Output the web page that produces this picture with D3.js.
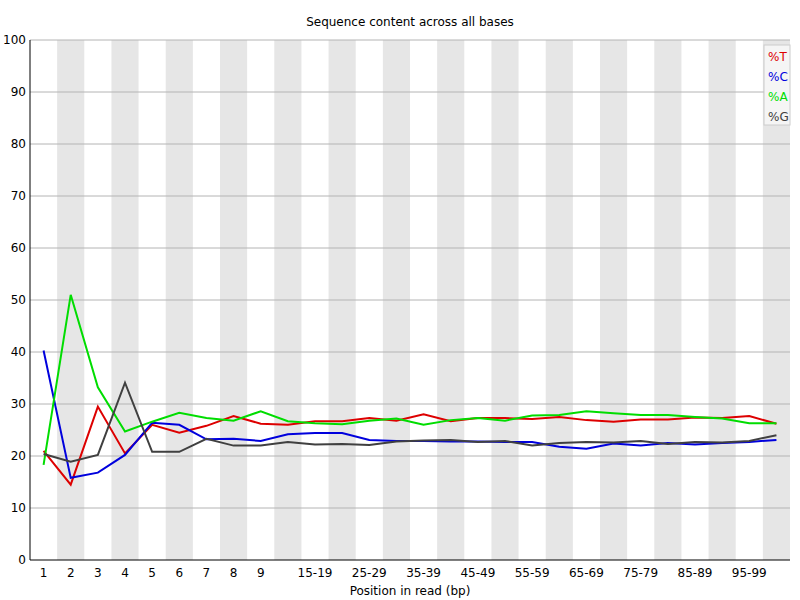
<!DOCTYPE html>
<html><head><meta charset="utf-8">
<script src="https://cdn.jsdelivr.net/npm/d3@7"></script>
<style>body{margin:0;background:#fff}text{font-family:"DejaVu Sans",sans-serif;font-size:12px}</style>
</head><body><div id="chart"></div>
<script>
var categories = ["1","2","3","4","5","6","7","8","9","10-14","15-19","20-24","25-29","30-34","35-39","40-44","45-49","50-54","55-59","60-64","65-69","70-74","75-79","80-84","85-89","90-94","95-99","100-101"];
var shownLabels = ["1","2","3","4","5","6","7","8","9","15-19","25-29","35-39","45-49","55-59","65-69","75-79","85-89","95-99"];
var pctT = [21,14.5,29.5,20.5,26,24.5,25.8,27.7,26.2,26,26.7,26.7,27.3,26.8,28,26.7,27.3,27.3,27.1,27.5,26.9,26.6,27,27,27.4,27.3,27.7,26.2];
var pctC = [40.3,15.8,16.8,20.2,26.4,26,23.2,23.3,22.9,24.2,24.4,24.4,23.1,22.9,22.9,22.8,22.8,22.7,22.7,21.8,21.4,22.4,22,22.5,22.2,22.5,22.7,23.1];
var pctA = [18.3,51,33.2,24.7,26.6,28.3,27.3,26.8,28.6,26.7,26.3,26.1,26.8,27.2,26,26.9,27.3,26.8,27.8,27.9,28.6,28.2,27.9,27.9,27.5,27.2,26.3,26.3];
var pctG = [20.4,18.9,20.2,34.1,20.8,20.8,23.3,22,22,22.7,22.2,22.3,22.1,22.8,23,23.1,22.7,22.9,22,22.5,22.7,22.6,22.9,22.3,22.7,22.6,22.9,24];
var series = [
  {name:"%T", values:pctT, color:"#dd0000"},
  {name:"%C", values:pctC, color:"#0000dd"},
  {name:"%A", values:pctA, color:"#00dd00"},
  {name:"%G", values:pctG, color:"#404040"}
];

var plotLeft = 30, plotRight = 790, plotTop = 40, plotBottom = 560;
var svg = d3.select("#chart").append("svg").attr("width", 800).attr("height", 600);
var x = d3.scaleBand().domain(categories).range([plotLeft, plotRight]);
var y = d3.scaleLinear().domain([0, 100]).range([plotBottom, plotTop]);

// alternating stripes
svg.selectAll("rect.stripe").data(categories.filter(function (d, i) { return i % 2 == 1; }))
  .enter().append("rect").attr("class", "stripe")
  .attr("x", function (d) { return x(d); }).attr("y", plotTop)
  .attr("width", x.bandwidth()).attr("height", plotBottom - plotTop).attr("fill", "#e6e6e6");

// horizontal grid
svg.selectAll("line.grid").data(d3.range(10, 101, 10)).enter().append("line")
  .attr("x1", plotLeft).attr("x2", plotRight)
  .attr("y1", function (d) { return y(d); }).attr("y2", function (d) { return y(d); })
  .attr("stroke", "#b4b4b4");

// axes
svg.append("line").attr("x1", plotLeft).attr("x2", plotLeft).attr("y1", plotTop).attr("y2", plotBottom).attr("stroke", "#000");
svg.append("line").attr("x1", plotLeft).attr("x2", plotRight).attr("y1", plotBottom).attr("y2", plotBottom).attr("stroke", "#000");
svg.selectAll("text.ylab").data(d3.range(0, 101, 10)).enter().append("text")
  .attr("x", plotLeft - 4).attr("y", function (d) { return y(d) + 4; })
  .attr("text-anchor", "end").text(function (d) { return d; });
svg.selectAll("text.xlab").data(shownLabels).enter().append("text")
  .attr("x", function (d) { return x(d) + x.bandwidth() / 2; }).attr("y", plotBottom + 17)
  .attr("text-anchor", "middle").text(function (d) { return d; });
svg.append("text").attr("x", 410).attr("y", 595).attr("text-anchor", "middle").text("Position in read (bp)");
svg.append("text").attr("x", 410).attr("y", 26).attr("text-anchor", "middle").text("Sequence content across all bases");

var line = d3.line()
  .x(function (d, i) { return x(categories[i]) + x.bandwidth() / 2; })
  .y(function (d) { return y(d); });
series.forEach(function (s) {
  svg.append("path").attr("d", line(s.values)).attr("fill", "none")
    .attr("stroke", s.color).attr("stroke-width", 2);
});

// legend
var lg = svg.append("g");
lg.append("rect").attr("x", 764).attr("y", 45).attr("width", 26).attr("height", 80)
  .attr("fill", "#f5f5f5").attr("stroke", "#ccc");
series.forEach(function (s, i) {
  lg.append("text").attr("x", 768).attr("y", 61 + i * 20).attr("fill", s.color).text(s.name);
});
</script></body></html>
